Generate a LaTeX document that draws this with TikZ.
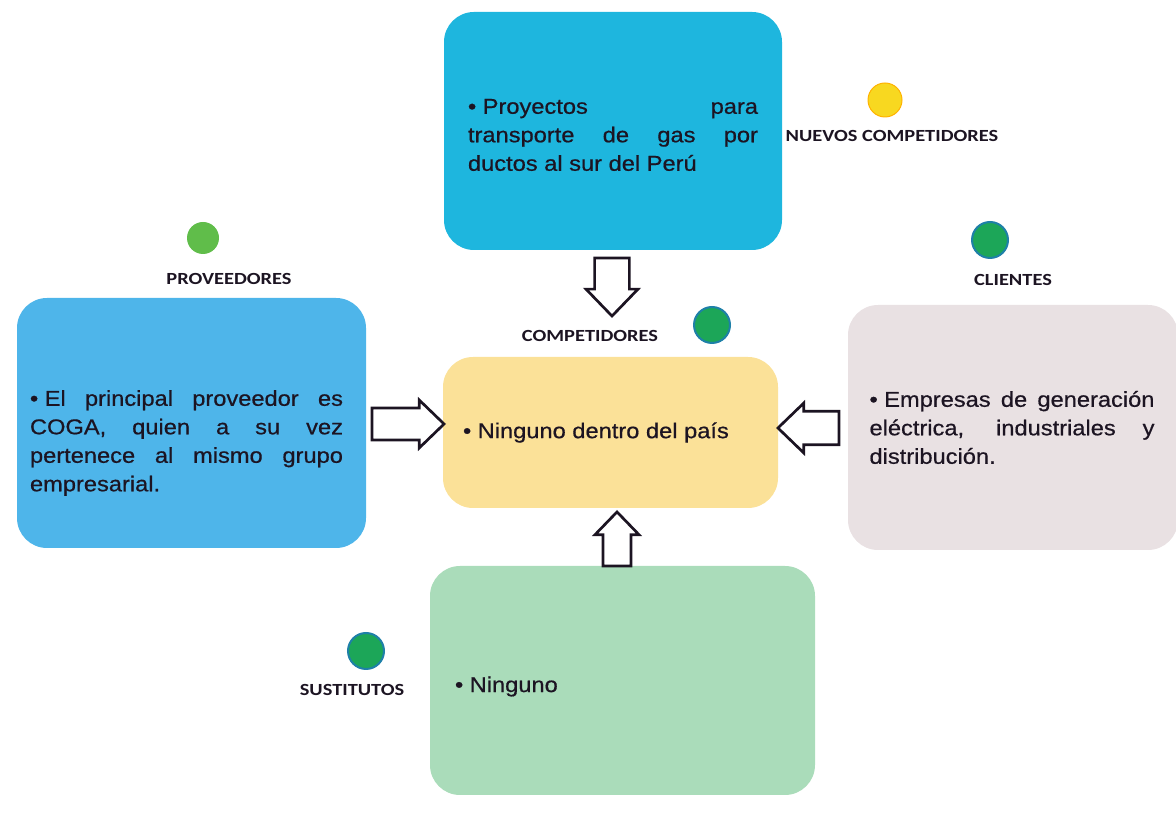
\documentclass[tikz,border=0pt]{standalone}
\usepackage{fontspec}
\usepackage{xcolor}
\setmainfont[FakeStretch=1.1, FakeBold=0.6]{Liberation Sans}
\newfontfamily\etiqfont[FakeStretch=1.2]{Carlito}
\usetikzlibrary{shapes.arrows}

\definecolor{tinta}{RGB}{28,20,34}
\definecolor{cian}{RGB}{30,182,222}
\definecolor{azul}{RGB}{78,181,234}
\definecolor{amarillo}{RGB}{251,225,152}
\definecolor{rosado}{RGB}{233,225,227}
\definecolor{verdeclaro}{RGB}{170,220,186}
\definecolor{puntoamarillo}{RGB}{248,216,32}
\definecolor{puntoverde}{RGB}{96,189,74}
\definecolor{puntoteal}{RGB}{28,166,88}
\definecolor{bordeteal}{RGB}{30,128,168}

\newcommand{\vineta}{•\hspace{0.3em}}

\tikzset{
	caja/.style={rounded corners=30pt, inner sep=0pt},
	texto/.style={inner sep=0pt, align=justify, text=tinta, font=\fontsize{21.5}{28.5}\selectfont},
	etiqueta/.style={inner sep=0pt, text=tinta, font=\etiqfont\bfseries\fontsize{17}{20}\selectfont},
	punto/.style={circle, inner sep=0pt, minimum size=#1},
	flecha/.style={single arrow, anchor=tip, draw=tinta, line width=2.7pt, fill=white, inner sep=13pt, single arrow tip angle=88},
}

\begin{document}
\begin{tikzpicture}[x=1pt, y=1pt]
	\useasboundingbox (0,0) rectangle (1176,813);
	
	\node[caja, fill=cian, minimum width=338, minimum height=238] (nuevos) at (613,682) {};
	\node[caja, fill=azul, minimum width=349, minimum height=250] (prov) at (191.5,390) {};
	\node[caja, fill=amarillo, minimum width=335, minimum height=151] (comp) at (610.5,380.5) {};
	\node[caja, fill=rosado, minimum width=330, minimum height=245] (clientes) at (1013,385.5) {};
	\node[caja, fill=verdeclaro, minimum width=385, minimum height=229] (sust) at (622.5,132.5) {};
	
	\node[texto, text width=290] (tnuevos) at ([yshift=-4]nuevos.center) {\vineta Proyectos para\linebreak transporte de gas por\linebreak ductos al sur del Perú};
	\node[texto, text width=313] (tprov) at ([xshift=-5,yshift=-20]prov.center) {\vineta El principal proveedor es\linebreak COGA, quien a su vez\linebreak pertenece al mismo grupo\linebreak empresarial.};
	\node[texto, anchor=west] (tcomp) at ([xshift=20]comp.west) {\vineta Ninguno dentro del país};
	\node[texto, text width=285] (tclientes) at ([xshift=-1]clientes.center) {\vineta Empresas de generación\linebreak eléctrica, industriales y\linebreak distribución.};
	\node[texto, anchor=west] (tsust) at ([xshift=25,yshift=-6]sust.west) {\vineta Ninguno};
	
	\node[flecha, shape border rotate=270, minimum height=58, minimum width=52] (fabajo) at (612,495) {};
	\node[flecha, minimum height=72, minimum width=48] (fder) at (446,389) {};
	\node[flecha, shape border rotate=180, minimum height=61, minimum width=50] (fizq) at (776,385) {};
	\node[flecha, shape border rotate=90, minimum height=54, minimum width=44, inner sep=11pt] (farriba) at (617,303) {};
	
	\node[punto=34, fill=puntoamarillo, draw=orange!60!yellow, line width=1pt] (pnuevos) at (885,713) {};
	\node[punto=32, fill=puntoverde] (pprov) at (203,575) {};
	\node[punto=36, fill=puntoteal, draw=bordeteal, line width=2pt] (pclientes) at (990,573) {};
	\node[punto=36, fill=puntoteal, draw=bordeteal, line width=2pt] (pcomp) at (712,488) {};
	\node[punto=36, fill=puntoteal, draw=bordeteal, line width=2pt] (psust) at (366,162) {};
	
	\node[etiqueta] (enuevos) at (892,677) {NUEVOS COMPETIDORES};
	\node[etiqueta] (eprov) at (229,534) {PROVEEDORES};
	\node[etiqueta] (eclientes) at (1013,533) {CLIENTES};
	\node[etiqueta] (ecomp) at (590,477) {COMPETIDORES};
	\node[etiqueta] (esust) at (352,123) {SUSTITUTOS};
\end{tikzpicture}
\end{document}
